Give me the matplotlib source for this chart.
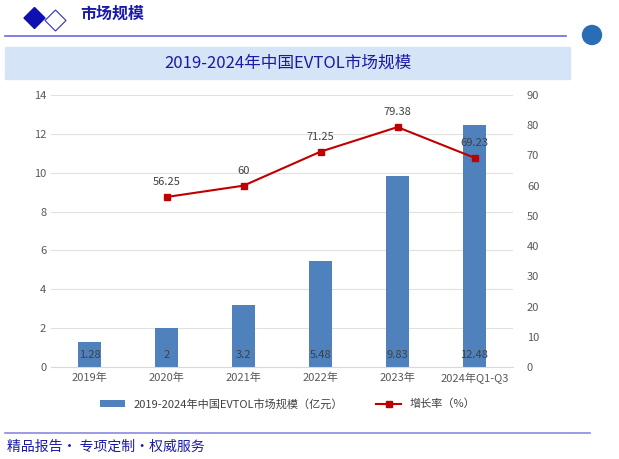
import matplotlib
matplotlib.use('Agg')
import matplotlib.pyplot as plt
from matplotlib.patches import Rectangle, Polygon, Circle

plt.rcParams['font.family'] = ['Noto Sans CJK SC', 'DejaVu Sans']

years = ['2019年', '2020年', '2021年', '2022年', '2023年', '2024年Q1-Q3']
market = [1.28, 2, 3.2, 5.48, 9.83, 12.48]
market_labels = ['1.28', '2', '3.2', '5.48', '9.83', '12.48']
growth_years = [1, 2, 3, 4, 5]
growth = [56.25, 60, 71.25, 79.38, 69.23]
growth_labels = ['56.25', '60', '71.25', '79.38', '69.23']

navy = '#1a1aa6'
grey = '#595959'

fig = plt.figure(figsize=(6.19, 4.59), dpi=100)

# slide decoration layer in pixel coordinates
bg = fig.add_axes([0, 0, 1, 1], zorder=0)
bg.set_xlim(0, 619)
bg.set_ylim(459, 0)
bg.axis('off')
bg.add_patch(Polygon([[24, 18], [34.5, 7.5], [45, 18], [34.5, 28.5]], color='#1010b0'))
bg.add_patch(Polygon([[45, 20.5], [55.5, 10], [66, 20.5], [55.5, 31]],
                     facecolor='white', edgecolor='#3030c0', lw=0.8))
bg.text(80, 14, '市场规模', fontsize=11.5, color=navy, fontweight='bold', va='center')
bg.plot([5, 566], [35.5, 35.5], color='#6a6ae0', lw=1.2)
bg.add_patch(Circle((592, 35), 9.5, color='#2a6db5'))
bg.add_patch(Rectangle((5, 47), 565, 32, color='#d6e4f8'))
bg.text(288, 63, '2019-2024年中国EVTOL市场规模', fontsize=12, color=navy, ha='center', va='center')
bg.plot([5, 590], [433, 433], color='#8a8ae0', lw=1.2)
bg.text(7, 447, '精品报告· 专项定制·权威服务', fontsize=10, color=navy, va='center')

ax = fig.add_axes([51 / 619, 1 - 367 / 459, 462 / 619, 272 / 459], zorder=2)
ax.patch.set_alpha(0)
x = list(range(len(years)))
ax.bar(x, market, width=0.31, color='#4f81bd', zorder=2,
       label='2019-2024年中国EVTOL市场规模（亿元）')
for xi, lab in zip(x, market_labels):
    ax.text(xi, 0.6, lab, ha='center', va='center', fontsize=8, color='#404040', zorder=4)
ax.set_ylim(0, 14)
ax.set_yticks(range(0, 15, 2))
ax.set_xlim(-0.5, 5.5)
ax.set_xticks(x)
ax.set_xticklabels(years, fontsize=8, color=grey)
ax.tick_params(axis='y', labelsize=8, colors=grey, length=0)
ax.tick_params(axis='x', length=0, pad=4)
ax.grid(axis='y', color='#e0e0e0', lw=0.8, zorder=0)
for s in ['top', 'right', 'left']:
    ax.spines[s].set_visible(False)
ax.spines['bottom'].set_color('#d9d9d9')

ax2 = ax.twinx()
ax2.plot(growth_years, growth, color='#c00000', marker='s', markersize=4.5, lw=1.5,
         label='增长率（%）', zorder=3)
for xi, v, lab in zip(growth_years, growth, growth_labels):
    ax2.annotate(lab, (xi, v), xytext=(0, 7), textcoords='offset points',
                 ha='center', va='bottom', fontsize=8, color='#404040')
ax2.set_ylim(0, 90)
ax2.set_yticks(range(0, 91, 10))
ax2.tick_params(axis='y', labelsize=8, colors=grey, length=0, pad=10)
for s in ax2.spines.values():
    s.set_visible(False)

h1, l1 = ax.get_legend_handles_labels()
h2, l2 = ax2.get_legend_handles_labels()
fig.legend(h1 + h2, l1 + l2, loc='center', bbox_to_anchor=(0.465, 1 - 404 / 459), ncol=2,
           frameon=False, fontsize=8, handlelength=2.2, handleheight=0.5, columnspacing=3,
           labelcolor='#404040')

fig.savefig('out.png', dpi=100)
